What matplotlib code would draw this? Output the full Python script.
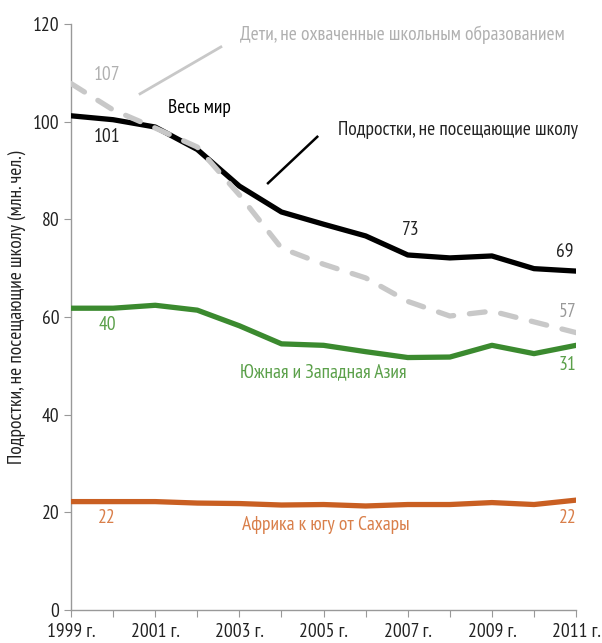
import matplotlib.pyplot as plt

plt.rcParams['font.family'] = ['PT Sans Narrow', 'DejaVu Sans']

years = list(range(1999, 2012))
# Подростки, не посещающие школу - весь мир
mir = [101.2, 100.4, 98.9, 94.3, 86.8, 81.5, 79.0, 76.6, 72.7, 72.1, 72.5, 69.9, 69.4]
# Дети, не охваченные школьным образованием
deti = [107.8, 102.4, 98.7, 94.8, 85.0, 74.1, 70.8, 68.0, 63.2, 60.2, 61.2, 59.0, 56.8]
# Южная и Западная Азия
azia = [61.8, 61.8, 62.4, 61.4, 58.2, 54.5, 54.2, 52.9, 51.7, 51.8, 54.2, 52.5, 54.2]
# Африка к югу от Сахары
afrika = [22.2, 22.2, 22.2, 21.9, 21.8, 21.5, 21.6, 21.3, 21.6, 21.6, 22.0, 21.6, 22.5]

xlabels = ['1999 г.', '', '2001 г.', '', '2003 г.', '', '2005 г.', '', '2007 г.', '', '2009 г.', '', '2011 г.']

fig = plt.figure(figsize=(6.02, 6.43), dpi=100)
ax = fig.add_axes([0.118, 0.0513, 0.839, 0.9114])

ax.plot(years, afrika, color='#c95f22', lw=3.8, solid_capstyle='round', zorder=3)
ax.plot(years, azia, color='#3b8a2f', lw=3.8, solid_capstyle='round', zorder=3)
ax.plot(years, mir, color='black', lw=3.8, solid_capstyle='round', zorder=4)
ax.plot(years, deti, color='#c8c8c8', lw=3.8, dashes=(3, 3), dash_capstyle='round', zorder=5)

ax.set_xlim(1999, 2011)
ax.set_ylim(0, 120)
ax.set_yticks(range(0, 121, 20))
ax.set_xticks(years)
ax.set_xticklabels(xlabels)
fs = 14
ax.set_ylabel('Подростки, не посещающие школу (млн. чел.)', fontsize=fs, color='#222222')
ax.yaxis.set_label_coords(-0.09, 0.517)

for s in ['top', 'right']:
    ax.spines[s].set_visible(False)
for s in ['left', 'bottom']:
    ax.spines[s].set_color('#999999')
    ax.spines[s].set_linewidth(1)
ax.tick_params(colors='#999999', labelcolor='#222222', labelsize=fs, length=5)
ax.tick_params(axis='x', pad=4)

# подписи
ax.text(2003.02, 117.8, 'Дети, не охваченные школьным образованием', color='#b0b0b0', fontsize=fs, va='center')
ax.plot([2000.64, 2002.56], [105.7, 115.3], color='#c8c8c8', lw=2)
ax.text(1999.86, 109.6, '107', color='#b0b0b0', fontsize=fs, ha='center', va='center')
ax.text(2001.31, 102.8, 'Весь мир', color='black', fontsize=fs, va='center')
ax.text(1999.86, 96.9, '101', color='#222222', fontsize=fs, ha='center', va='center')
ax.plot([2003.68, 2004.85], [87.4, 96.9], color='black', lw=1.8)
ax.text(2005.35, 98.3, 'Подростки, не посещающие школу', color='#222222', fontsize=fs, va='center')
ax.text(2007.06, 77.8, '73', color='#222222', fontsize=fs, ha='center', va='center')
ax.text(2010.74, 73.3, '69', color='#222222', fontsize=fs, ha='center', va='center')
ax.text(2010.79, 61.0, '57', color='#999999', fontsize=fs, ha='center', va='center')
ax.text(1999.86, 58.4, '40', color='#5ba04a', fontsize=fs, ha='center', va='center')
ax.text(2003.02, 48.7, 'Южная и Западная Азия', color='#5ba04a', fontsize=fs, va='center')
ax.text(2010.79, 50.2, '31', color='#5ba04a', fontsize=fs, ha='center', va='center')
ax.text(1999.86, 18.8, '22', color='#d97f4a', fontsize=fs, ha='center', va='center')
ax.text(2003.06, 17.4, 'Африка к югу от Сахары', color='#d97f4a', fontsize=fs, va='center')
ax.text(2010.79, 18.8, '22', color='#d97f4a', fontsize=fs, ha='center', va='center')

fig.savefig('out.png', dpi=100)
